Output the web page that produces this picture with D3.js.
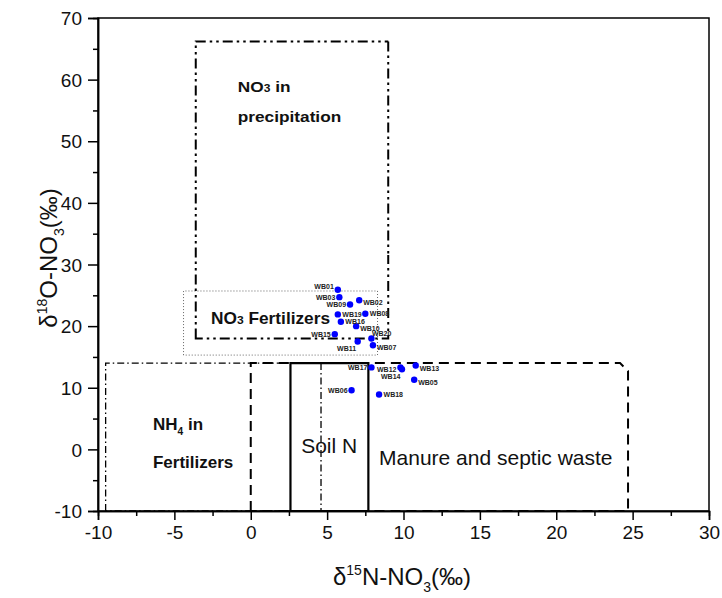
<!DOCTYPE html>
<html>
<head>
<meta charset="utf-8">
<script src="https://cdn.jsdelivr.net/npm/d3@7"></script>
<style>
  body { margin: 0; background: #fff; }
  text { font-family: Arial, "Liberation Sans", sans-serif; }
</style>
</head>
<body>
<div id="chart"></div>
<script>
// δ15N vs δ18O of nitrate, with source boxes

const width = 722;
const height = 598;
const margin = { top: 18, right: 13, bottom: 87, left: 98 };

// sample points
const sampleIds = ["WB01", "WB02", "WB03", "WB05", "WB06", "WB07", "WB08", "WB09", "WB10", "WB11",
                   "WB12", "WB13", "WB14", "WB15", "WB16", "WB17", "WB18", "WB19", "WB20"];
const d15N = [5.7, 7.1, 5.8, 10.7, 6.6, 8.0, 7.5, 6.5, 6.9, 7.0,
              9.8, 10.8, 9.9, 5.5, 5.9, 7.9, 8.4, 5.7, 7.9];
const d18O = [25.9, 24.2, 24.7, 11.3, 9.6, 16.9, 22.0, 23.5, 20.0, 17.5,
              13.3, 13.6, 13.0, 18.7, 20.7, 13.3, 8.9, 21.9, 18.0];
const labelSide = ["ul", "dr", "l", "dr", "l", "dr", "r", "l", "dr", "bl",
                   "dl", "dr", "bl", "l", "r", "l", "r", "r", "ur"];

// source boxes: [xMin, xMax, yMin, yMax]
const boxNames = ["nh4", "manure", "soil", "no3fert", "precip"];
const boxExtents = [
  [-9.5, 4.6, -10, 14],
  [0, 24.7, -10, 14],
  [2.6, 7.7, -10, 14],
  [-4.4, 8.3, 15.3, 25.7],
  [-3.6, 9.0, 18.0, 66.2]
];

// axis ticks
const xTicks = [-10, -5, 0, 5, 10, 15, 20, 25, 30];
const xMinorTicks = [-7.5, -2.5, 2.5, 7.5, 12.5, 17.5, 22.5, 27.5];
const yTicks = [-10, 0, 10, 20, 30, 40, 50, 60, 70];
const yMinorTicks = [-5, 5, 15, 25, 35, 45, 55, 65];

const svg = d3.select("#chart")
  .append("svg")
  .attr("width", width)
  .attr("height", height);

const x = d3.scaleLinear().domain([-10, 30]).range([margin.left, width - margin.right]);
const y = d3.scaleLinear().domain([-10, 70]).range([height - margin.bottom, margin.top]);

const boxStyle = {
  nh4:     { dash: "7,3,1.5,3", w: 1.3, color: "#000" },
  manure:  { dash: "10,6", w: 2, color: "#000", cut: 8 },
  soil:    { dash: null, w: 2.2, color: "#000" },
  no3fert: { dash: "1,2", w: 1, color: "#666" },
  precip:  { dash: "10,4,2.5,4,2.5,4", w: 2, color: "#000" }
};

boxNames.forEach((name, i) => {
  const [x0, x1, y0, y1] = boxExtents[i];
  const s = boxStyle[name];
  const px0 = x(x0), px1 = x(x1), pyTop = y(y1), pyBot = y(y0);
  const c = s.cut || 0;
  const p = d3.path();
  p.moveTo(px0, pyBot);
  p.lineTo(px0, pyTop);
  p.lineTo(px1 - c, pyTop);
  p.lineTo(px1, pyTop + c);
  p.lineTo(px1, pyBot);
  p.closePath();
  svg.append("path")
    .attr("d", p.toString())
    .attr("fill", "none")
    .attr("stroke", s.color)
    .attr("stroke-width", s.w)
    .attr("stroke-dasharray", s.dash);
});

// frame
svg.append("rect")
  .attr("x", x(-10))
  .attr("y", y(70))
  .attr("width", x(30) - x(-10))
  .attr("height", y(-10) - y(70))
  .attr("fill", "none")
  .attr("stroke", "#000")
  .attr("stroke-width", 1.5);

// axes
const fmt = d => String(d);
svg.append("g")
  .attr("transform", `translate(0,${y(-10)})`)
  .call(d3.axisBottom(x).tickValues(xTicks).tickSize(9).tickPadding(6).tickFormat(fmt));
svg.append("g")
  .attr("transform", `translate(0,${y(-10)})`)
  .call(d3.axisBottom(x).tickValues(xMinorTicks).tickSize(5).tickFormat(""));
const yAxis = svg.append("g")
  .attr("transform", `translate(${x(-10)},0)`)
  .call(d3.axisLeft(y).tickValues(yTicks).tickSize(10).tickPadding(6).tickFormat(fmt));
svg.append("g")
  .attr("transform", `translate(${x(-10)},0)`)
  .call(d3.axisLeft(y).tickValues(yMinorTicks).tickSize(5).tickFormat(""));

svg.selectAll(".domain").attr("stroke-width", 1.5);
svg.selectAll(".tick line").attr("stroke-width", 1.5);
svg.selectAll(".tick text")
  .style("font-family", "Arial, 'Liberation Sans', sans-serif")
  .style("font-size", "19px")
  .attr("fill", "#111");
yAxis.selectAll(".tick text").attr("dy", "0.35em");

// box labels
function boldLabel(px, py, parts, size, stretch) {
  const t = svg.append("text")
    .attr("transform", `translate(${px},${py}) scale(${stretch},1)`)
    .attr("font-weight", "bold")
    .attr("font-size", size)
    .attr("fill", "#111");
  parts.forEach(p => {
    const ts = t.append("tspan").text(p.t);
    if (p.small) ts.attr("font-size", size * 0.7);
    if (p.sub) ts.attr("font-size", size * 0.6).attr("dy", 5);
    if (p.back) ts.attr("dy", -5);
  });
  return t;
}

boldLabel(x(-0.85), y(58.0), [{ t: "NO" }, { t: "3", small: true }, { t: " in" }], 15, 1.15);
boldLabel(x(-0.85), y(53.2), [{ t: "precipitation" }], 15, 1.15);
boldLabel(x(-2.6), y(20.3), [{ t: "NO" }, { t: "3", small: true }, { t: " Fertilizers" }], 16, 1.08);
boldLabel(x(-6.4), y(3.1), [{ t: "NH" }, { t: "4", sub: true }, { t: " in", back: true }], 17, 1);
boldLabel(x(-6.4), y(-3.1), [{ t: "Fertilizers" }], 17, 1);

svg.append("text")
  .attr("x", x(3.3)).attr("y", y(-0.6))
  .attr("font-size", 21).attr("fill", "#111")
  .text("Soil N");
svg.append("text")
  .attr("x", x(8.4)).attr("y", y(-2.5))
  .attr("font-size", 21).attr("fill", "#111")
  .text("Manure and septic waste");

// points
const offsets = {
  l:  [-4, 2.5, "end"],
  ul: [-4, -0.5, "end"],
  dl: [-4, 4.5, "end"],
  r:  [4.5, 2.5, "start"],
  dr: [4, 5, "start"],
  ur: [0.5, -2, "start"],
  bl: [-1.5, 9.5, "end"]
};

const pts = sampleIds.map((id, i) => ({ id, x: d15N[i], y: d18O[i], side: labelSide[i] }));

svg.selectAll(".pt")
  .data(pts)
  .enter().append("circle")
  .attr("class", "pt")
  .attr("cx", d => x(d.x))
  .attr("cy", d => y(d.y))
  .attr("r", 3.2)
  .attr("fill", "#0000ff");

svg.selectAll(".ptlabel")
  .data(pts)
  .enter().append("text")
  .attr("class", "ptlabel")
  .attr("x", d => x(d.x) + offsets[d.side][0])
  .attr("y", d => y(d.y) + offsets[d.side][1])
  .attr("text-anchor", d => offsets[d.side][2])
  .attr("font-size", 7)
  .attr("font-weight", "bold")
  .attr("fill", "#222")
  .text(d => d.id);

// axis titles
const xTitle = svg.append("text")
  .attr("x", 402).attr("y", 585)
  .attr("text-anchor", "middle")
  .attr("font-size", 24).attr("fill", "#111");
xTitle.append("tspan").text("δ");
xTitle.append("tspan").attr("font-size", 14).attr("dy", -10).text("15");
xTitle.append("tspan").attr("dy", 10).text("N-NO");
xTitle.append("tspan").attr("font-size", 14).attr("dy", 7).text("3");
xTitle.append("tspan").attr("dy", -7).text("(‰)");

const yTitle = svg.append("text")
  .attr("transform", "translate(57,258) rotate(-90)")
  .attr("text-anchor", "middle")
  .attr("font-size", 24).attr("fill", "#111");
yTitle.append("tspan").text("δ");
yTitle.append("tspan").attr("font-size", 14).attr("dy", -10).text("18");
yTitle.append("tspan").attr("dy", 10).text("O-NO");
yTitle.append("tspan").attr("font-size", 14).attr("dy", 7).text("3");
yTitle.append("tspan").attr("dy", -7).text("(‰)");
</script>
</body>
</html>
